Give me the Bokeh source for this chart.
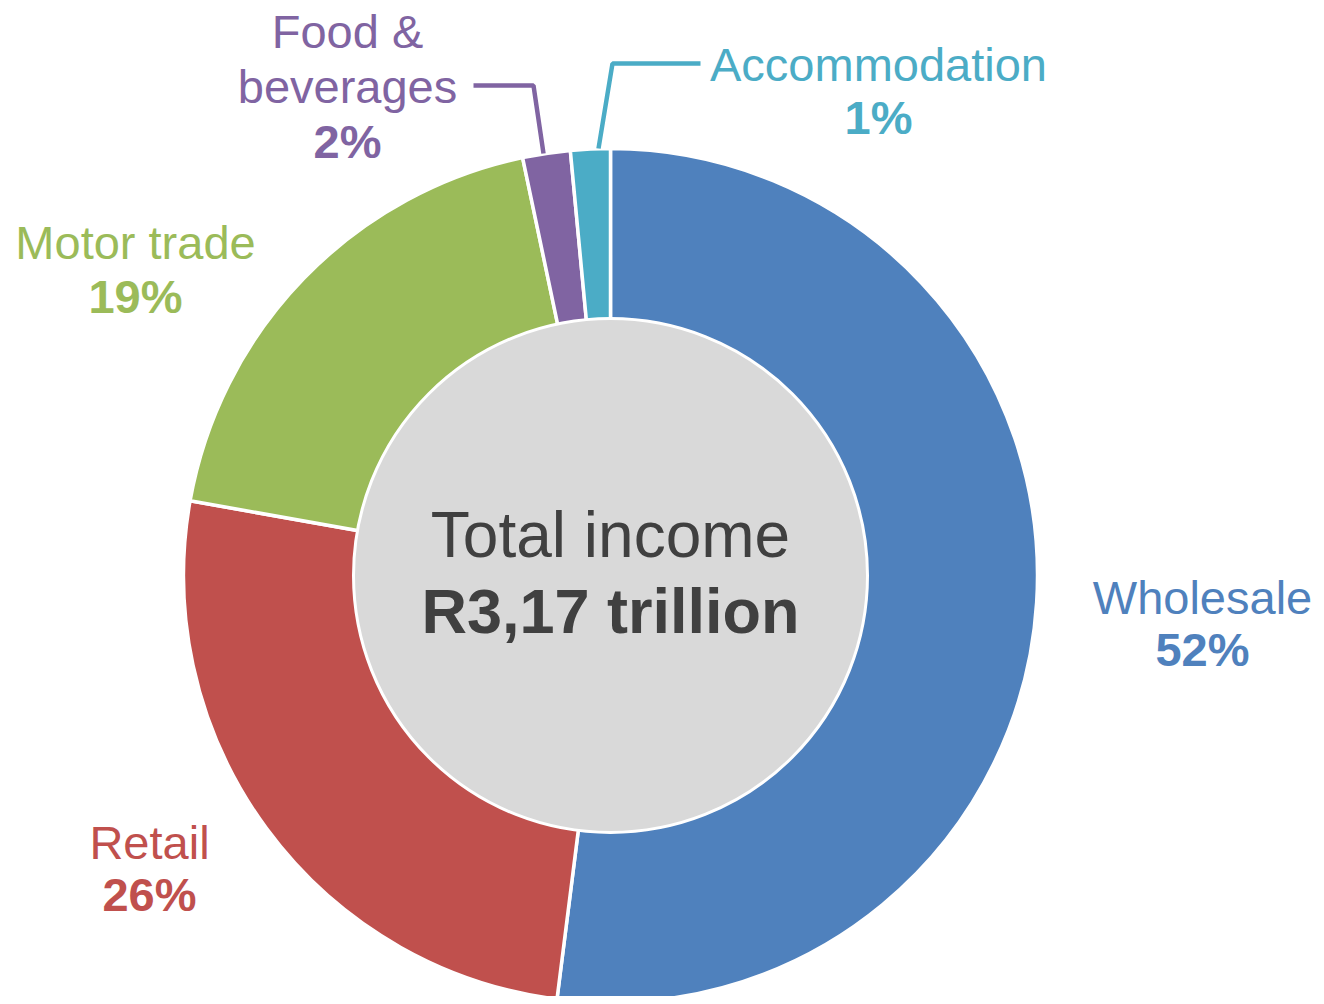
import math
from bokeh.plotting import figure
from bokeh.models import Range1d, ColumnDataSource
from bokeh.core.properties import value
from bokeh.embed import file_html
from bokeh.resources import INLINE

# ---- data ----
categories = ["Wholesale", "Retail", "Motor trade", "Food & beverages", "Accommodation"]
shares = [52.0, 25.8, 18.9, 1.8, 1.5]
pct_labels = ["52%", "26%", "19%", "2%", "1%"]
name_lines = [["Wholesale"], ["Retail"], ["Motor trade"], ["Food &", "beverages"], ["Accommodation"]]
colors = ["#4F81BD", "#C0504D", "#9BBB59", "#8064A2", "#4BACC6"]
center_title = "Total income"
center_value = "R3,17 trillion"

# ---- layout (screen pixel coordinates of the reference) ----
W, H = 1316, 996
CX, CY = 610, 575
R_OUT, R_IN = 427, 257
FONT = "Liberation Sans"
LBL_SHIFT = 16   # baseline correction for 47px labels
CTR_SHIFT = 24   # baseline correction for 64px centre text

label_pos = {  # center x, name baselines, pct baseline
    "Wholesale": (1202, [613], 665),
    "Retail": (149, [858], 910),
    "Motor trade": (135, [258], 312),
    "Food & beverages": (347, [47, 102], 157),
    "Accommodation": (878, [80], 133),
}
leaders = {
    "Food & beverages": [(473, 85), (533, 85), (543, 153)],
    "Accommodation": [(700, 63), (612, 63), (598, 148)],
}

def dx(X):
    return X - CX

def dy(Y):
    return CY - Y

p = figure(width=W, height=H, output_backend="svg", toolbar_location=None,
           x_range=Range1d(-CX, W - CX), y_range=Range1d(CY - H, CY),
           min_border=0)
p.axis.visible = False
p.grid.visible = False
p.outline_line_color = None
p.background_fill_color = "white"
p.border_fill_color = "white"

total = sum(shares)
starts, ends = [], []
cum = 0.0
for s in shares:
    a0 = math.pi / 2 - 2 * math.pi * cum / total
    cum += s
    a1 = math.pi / 2 - 2 * math.pi * cum / total
    starts.append(a0)
    ends.append(a1)

src = ColumnDataSource(dict(start=starts, end=ends, color=colors, cat=categories))
p.annular_wedge(x=0, y=0, inner_radius=R_IN - 40, outer_radius=R_OUT,
                start_angle="start", end_angle="end", direction="clock",
                fill_color="color", line_color="white", line_width=3.5, source=src)

p.circle(x=0, y=0, radius=R_IN, fill_color="#D9D9D9", line_color="white", line_width=3)

# leader lines
for cat, pts in leaders.items():
    col = colors[categories.index(cat)]
    p.line([dx(a) for a, b in pts], [dy(b) for a, b in pts], line_color=col, line_width=4.5)

# labels
for cat, pct, lines, col in zip(categories, pct_labels, name_lines, colors):
    lx, bases, pb = label_pos[cat]
    p.text(x=[dx(lx)] * len(lines), y=[dy(b - LBL_SHIFT) for b in bases], text=lines,
           text_font=value(FONT), text_font_size="47px", text_color=col,
           text_align="center", text_baseline="alphabetic")
    p.text(x=[dx(lx)], y=[dy(pb - LBL_SHIFT)], text=[pct],
           text_font=value(FONT), text_font_size="47px", text_font_style="bold",
           text_color=col, text_align="center", text_baseline="alphabetic")

p.text(x=[0], y=[dy(558 - CTR_SHIFT)], text=[center_title], text_font=value(FONT),
       text_font_size="64px", text_color="#404040", text_align="center",
       text_baseline="alphabetic")
p.text(x=[0], y=[dy(634 - CTR_SHIFT)], text=[center_value], text_font=value(FONT),
       text_font_size="63px", text_font_style="bold", text_color="#404040",
       text_align="center", text_baseline="alphabetic")

open("out.html", "w").write(file_html(p, INLINE))
